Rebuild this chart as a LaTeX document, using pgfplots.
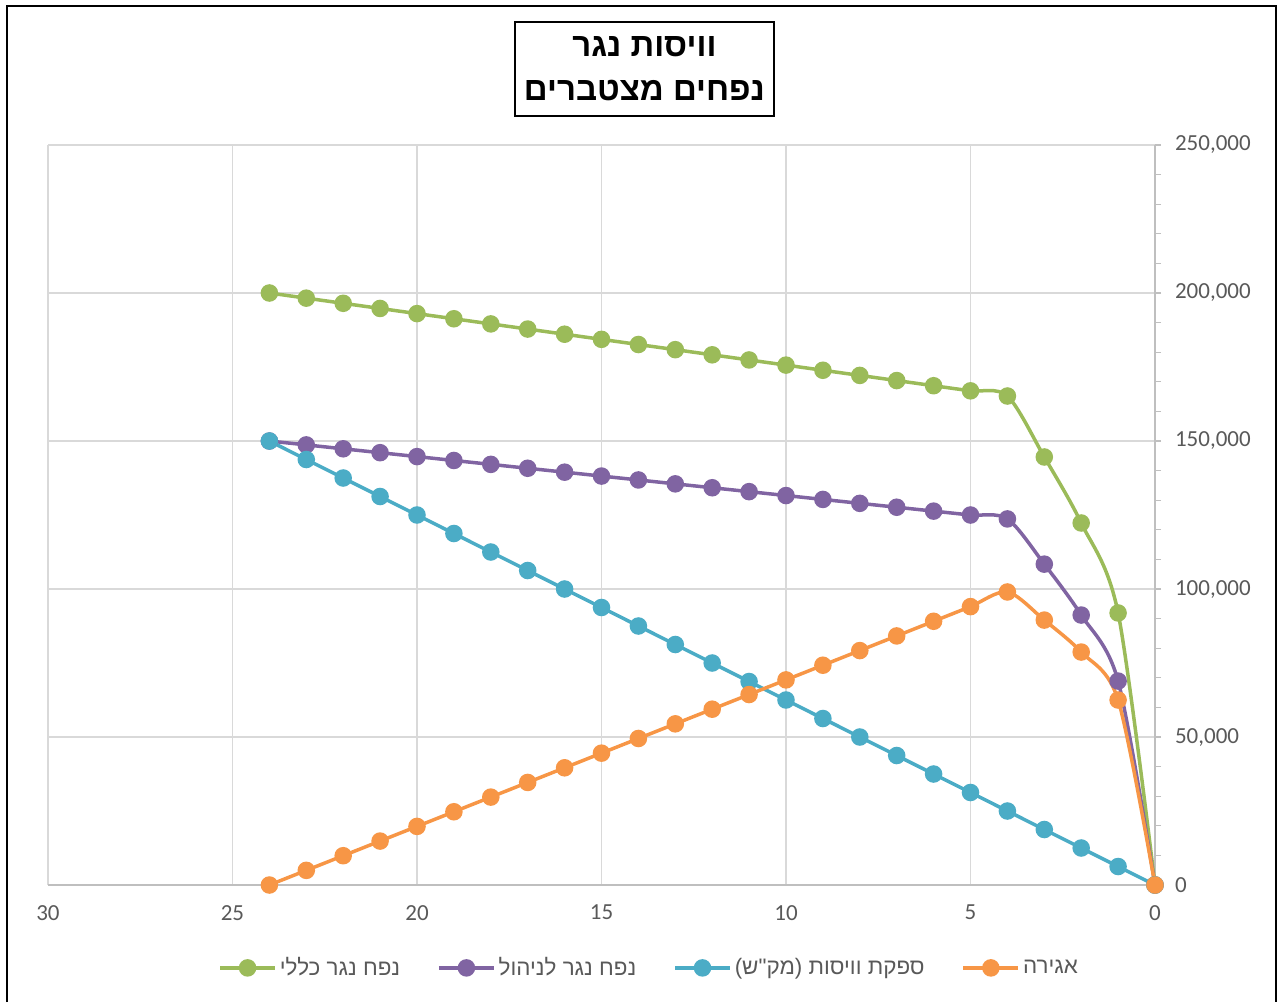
\documentclass[border=0pt]{standalone}
\usepackage{fontspec}
\setmainfont{Carlito}
\newfontfamily\hebfont[Script=Hebrew]{Liberation Sans}
\TeXXeTstate=1
\usepackage{pgfplots}
\pgfplotsset{compat=1.18}
\definecolor{cgreen}{HTML}{9BBB59}
\definecolor{cpurple}{HTML}{8064A2}
\definecolor{ccyan}{HTML}{4BACC6}
\definecolor{corange}{HTML}{F79646}
\definecolor{tickgray}{HTML}{595959}
\definecolor{gridgray}{HTML}{D9D9D9}
\definecolor{axgray}{HTML}{BFBFBF}
\begin{document}
\begin{tikzpicture}
\begin{axis}[
  scale only axis, width=553.5pt, height=370pt,
  xmin=0, xmax=30, ymin=0, ymax=250000,
  x dir=reverse,
  clip=false,
  axis x line*=bottom, axis y line*=right,
  axis line style={axgray, line width=0.7pt},
  xtick={0,5,...,30}, ytick={0,50000,...,250000},
  minor y tick num=4,
  xmajorgrids, ymajorgrids,
  grid style={gridgray, line width=0.6pt},
  tick align=outside,
  xtick style={draw=none},
  ytick style={axgray, line width=0.6pt},
  major tick length=3pt, minor tick length=3pt,
  ticklabel style={font=\fontsize{11.5}{13}\selectfont, text=tickgray},
  /pgf/number format/assume math mode=true,
  /pgf/number format/fixed,
  /pgf/number format/1000 sep={,},
  scaled y ticks=false,
  xticklabel style={yshift=-3.5pt},
  yticklabel style={xshift=3.5pt},
  legend columns=4,
  legend image code/.code={\draw[sharp plot, mark repeat=2, mark phase=2] plot coordinates {(0pt,0pt) (13.75pt,0pt) (27.5pt,0pt)};},
  legend style={at={(0.5435,-0.112)}, anchor=center, draw=none, fill=none,
    font=\hebfont\fontsize{11.2}{13}\selectfont, text=tickgray,
    nodes={inner xsep=1.5pt},
    /tikz/every odd column/.append style={column sep=0pt},
    /tikz/every even column/.append style={column sep=17pt}},
  every axis plot/.append style={line width=1.75pt, mark=*, mark size=3.5pt, smooth, tension=0.5, mark options={solid}},
]
\addplot[cgreen, mark options={fill=cgreen, draw=cgreen}] coordinates {
(24,200000) (23,198260) (22,196520) (21,194780) (20,193040) (19,191300)
(18,189560) (17,187820) (16,186080) (15,184340) (14,182600) (13,180860)
(12,179120) (11,177380) (10,175640) (9,173900) (8,172160) (7,170420)
(6,168680) (5,166940) (4,165200) (3,144600) (2,122300) (1,91900) (0,0)};
\addlegendentry{\beginR נפח נגר כללי\endR}
\addplot[cpurple, mark options={fill=cpurple, draw=cpurple}] coordinates {
(24,150000) (23,148684) (22,147368) (21,146052) (20,144736) (19,143420)
(18,142104) (17,140788) (16,139472) (15,138156) (14,136840) (13,135524)
(12,134208) (11,132892) (10,131576) (9,130260) (8,128944) (7,127628)
(6,126312) (5,124996) (4,123680) (3,108400) (2,91200) (1,68900) (0,0)};
\addlegendentry{\beginR נפח נגר לניהול\endR}
\addplot[ccyan, mark options={fill=ccyan, draw=ccyan}] coordinates {
(24,150000) (23,143750) (22,137500) (21,131250) (20,125000) (19,118750)
(18,112500) (17,106250) (16,100000) (15,93750) (14,87500) (13,81250)
(12,75000) (11,68750) (10,62500) (9,56250) (8,50000) (7,43750)
(6,37500) (5,31250) (4,25000) (3,18750) (2,12500) (1,6250) (0,0)};
\addlegendentry{\beginR ספקת וויסות (מק"ש)\endR}
\addplot[corange, mark options={fill=corange, draw=corange}] coordinates {
(24,0) (23,4950) (22,9900) (21,14850) (20,19800) (19,24750)
(18,29700) (17,34650) (16,39600) (15,44550) (14,49500) (13,54450)
(12,59400) (11,64350) (10,69300) (9,74250) (8,79200) (7,84150)
(6,89100) (5,94050) (4,99000) (3,89500) (2,78700) (1,62500) (0,0)};
\addlegendentry{\beginR אגירה\endR}
\node[draw=black, line width=0.9pt, fill=white, align=center,
  font=\hebfont\bfseries\fontsize{16.5}{22}\selectfont,
  minimum width=129.5pt, minimum height=47pt, inner sep=1pt]
  at (axis description cs:0.5388,1.1027)
  {\beginR וויסות נגר\endR\\\beginR נפחים מצטברים\endR};
\draw[black, line width=1.2pt] (axis description cs:-0.0370,-0.15811) -- (axis description cs:-0.0370,1.1878) -- (axis description cs:1.1093,1.1878) -- (axis description cs:1.1093,-0.15811);
\coordinate (bbsw) at (axis description cs:-0.04336,-0.15811);
\coordinate (bbne) at (axis description cs:1.11382,1.19595);
\end{axis}
\useasboundingbox (bbsw) rectangle (bbne);
\end{tikzpicture}
\end{document}
